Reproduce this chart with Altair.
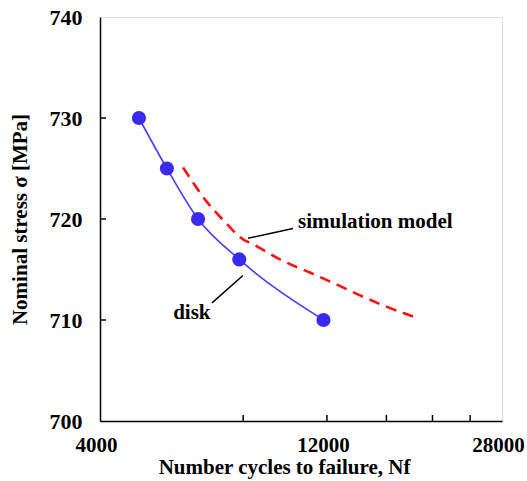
import altair as alt
import pandas as pd

# Data
disk_nf = [4830, 5530, 6430, 7850, 11800]
disk_stress = [730, 725, 720, 716, 710]
sim_nf = [5980, 6710, 7430, 7880, 8550, 9560, 11050, 12600, 14290, 16050, 18200]
sim_stress = [725.1, 721.7, 719.4, 718.2, 717.3, 716.0, 714.7, 713.5, 712.3, 711.3, 710.35]
x_label_values = [4000, 12000, 28000]
x_minor_ticks = [8000, 12000, 16000, 20000, 24000]
y_label_values = [700, 710, 720, 730, 740]
y_inner_ticks = [710, 720, 730]

ann_text = ["simulation model", "disk"]
ann_text_nf = [10430, 5700]
ann_text_stress = [719.75, 710.7]
lead_nf = [8190, 10180, 6880, 7990]
lead_stress = [718.1, 719.05, 711.7, 714.4]
lead_group = ["sim", "sim", "disk", "disk"]

FONT = "Liberation Serif"

xscale = alt.Scale(type="log", domain=[4000, 28000], nice=False)
yscale = alt.Scale(domain=[700, 740], nice=False, zero=False)

disk_df = pd.DataFrame({"nf": disk_nf, "stress": disk_stress})
sim_df = pd.DataFrame({"nf": sim_nf, "stress": sim_stress})
xt_df = pd.DataFrame({"nf": x_minor_ticks})
yt_df = pd.DataFrame({"stress": y_inner_ticks})
txt_df = pd.DataFrame({"nf": ann_text_nf, "stress": ann_text_stress, "label": ann_text})
lead_df = pd.DataFrame({"nf": lead_nf, "stress": lead_stress, "g": lead_group})

x_enc = alt.X(
    "nf:Q",
    scale=xscale,
    axis=alt.Axis(
        values=x_label_values,
        format="d",
        ticks=False,
        grid=False,
        labelFont=FONT,
        labelFontWeight="bold",
        labelFontSize=21,
        labelColor="black",
        labelPadding=13,
        labelOffset=-4,
        labelFlush=False,
        labelOverlap=False,
        domainColor="black",
        domainWidth=1.5,
        title="Number cycles to failure, Nf",
        titleFont=FONT,
        titleFontWeight="bold",
        titleFontSize=21,
        titleColor="black",
        titlePadding=1,
        titleX=184,
    ),
)
y_enc = alt.Y(
    "stress:Q",
    scale=yscale,
    axis=alt.Axis(
        values=y_label_values,
        ticks=False,
        grid=False,
        labelFont=FONT,
        labelFontWeight="bold",
        labelFontSize=22,
        labelColor="black",
        labelPadding=18,
        labelFlush=False,
        domainColor="black",
        domainWidth=1.5,
        title="Nominal stress σ [MPa]",
        titleFont=FONT,
        titleFontWeight="bold",
        titleFontSize=21,
        titleColor="black",
        titlePadding=19,
    ),
)

disk_line = alt.Chart(disk_df).mark_line(
    color="#4a3cf5", strokeWidth=1.6, interpolate="monotone"
).encode(x=x_enc, y=y_enc)

disk_pts = alt.Chart(disk_df).mark_circle(
    color="#3a2aee", opacity=1, size=200
).encode(x="nf:Q", y="stress:Q")

sim_line = alt.Chart(sim_df).mark_line(
    color="#ff1010", strokeWidth=2.6, strokeDash=[11, 7], interpolate="monotone"
).encode(x="nf:Q", y="stress:Q")

x_ticks = alt.Chart(xt_df).mark_rule(color="black", strokeWidth=1.5).encode(
    x="nf:Q", y=alt.value(404), y2=alt.value(398)
)
y_ticks = alt.Chart(yt_df).mark_rule(color="black", strokeWidth=1.5).encode(
    y="stress:Q", x=alt.value(0), x2=alt.value(6)
)

leaders = alt.Chart(lead_df).mark_line(color="black", strokeWidth=1.5).encode(
    x="nf:Q", y="stress:Q", detail="g:N"
)

labels = alt.Chart(txt_df).mark_text(
    align="left", baseline="middle", font=FONT, fontWeight="bold", fontSize=21, color="black"
).encode(x="nf:Q", y="stress:Q", text="label:N")

chart = alt.layer(
    disk_line, sim_line, disk_pts, x_ticks, y_ticks, leaders, labels
).properties(
    width=402,
    height=404,
    autosize=alt.AutoSizeParams(type="none"),
    padding={"left": 100, "top": 17, "right": 25, "bottom": 60},
).configure_view(
    stroke="black", strokeWidth=1.5
).configure(background="white")

chart.save("out.html", embed_options={"renderer": "svg", "actions": False})
